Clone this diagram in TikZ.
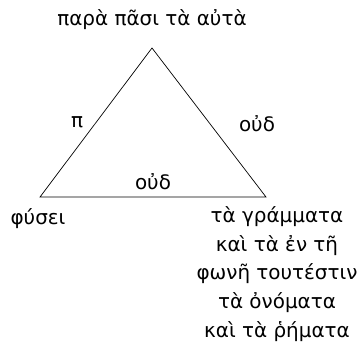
\documentclass[tikz,border=0pt]{standalone}
\usepackage{fontspec}
\setmainfont{DejaVu Sans}
\usetikzlibrary{positioning}

\begin{document}
\begin{tikzpicture}[x=1bp,y=-1bp, every node/.style={font=\fontsize{20}{29}\selectfont},
        side/.style={draw,line width=0.7pt,line join=miter}]
      \useasboundingbox (0,0) rectangle (358,360);
      \coordinate (top) at (152,48);
      \coordinate (left) at (40,197);
      \coordinate (right) at (266,197);
      \draw[side] (top) -- (left) -- (right) -- cycle;
      \node (same) at (152,20) {παρὰ πᾶσι τὰ αὐτὰ};
      \node (pi) at (77,122) {π};
      \node (oudR) at (257,124) {οὐδ};
      \node (oudB) at (153,182) {οὐδ};
      \node (physei) at (38,219) {φύσει};
      \node[anchor=north,align=center,inner sep=0pt] (names) at (277,206)
        {τὰ γράμματα\\ καὶ τὰ ἐν τῆ\\ φωνῆ τουτέστιν\\ τὰ ὀνόματα\\ καὶ τὰ ῥήματα};
    \end{tikzpicture}
\end{document}
